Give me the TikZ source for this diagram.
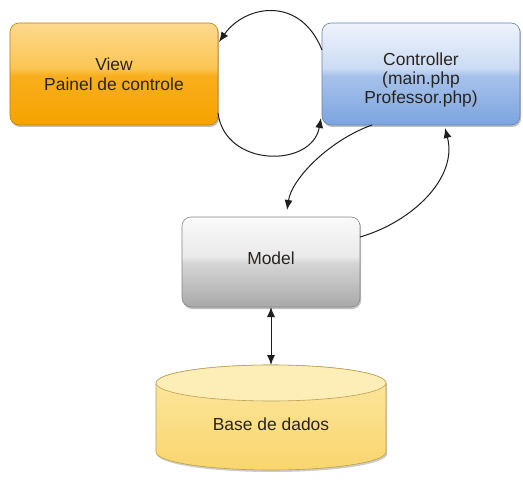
\documentclass[tikz,border=0pt]{standalone}
\usepackage{fontspec}
\setmainfont{Liberation Sans}
\usetikzlibrary{arrows.meta,shadows,calc}
\definecolor{vb}{HTML}{F6A300}
\definecolor{vm}{HTML}{F8AE1C}
\definecolor{vt2}{HTML}{FBC654}
\definecolor{vt}{HTML}{FCD98E}
\definecolor{cb}{HTML}{7CA4DE}
\definecolor{cm}{HTML}{A6C2EB}
\definecolor{ct2}{HTML}{CCDCF4}
\definecolor{ct}{HTML}{EEF3FC}
\definecolor{mb}{HTML}{A9A9A9}
\definecolor{mm}{HTML}{D4D4D4}
\definecolor{mt2}{HTML}{E9E9E9}
\definecolor{mt}{HTML}{FAFAFA}
\definecolor{yb}{HTML}{F9D66E}
\definecolor{yt}{HTML}{FCE7A2}
\definecolor{ytop}{HTML}{FDEDB6}
\definecolor{txt}{HTML}{2A2420}
\definecolor{ln}{HTML}{1E1E1E}
\pgfdeclareverticalshading{viewsh}{100bp}{color(0bp)=(vb); color(25bp)=(vb); color(49bp)=(vm); color(53bp)=(vt2); color(75bp)=(vt); color(100bp)=(vt)}
\pgfdeclareverticalshading{ctrlsh}{100bp}{color(0bp)=(cb); color(25bp)=(cb); color(49bp)=(cm); color(53bp)=(ct2); color(75bp)=(ct); color(100bp)=(ct)}
\pgfdeclareverticalshading{modsh}{100bp}{color(0bp)=(mb); color(25bp)=(mb); color(49bp)=(mm); color(53bp)=(mt2); color(75bp)=(mt); color(100bp)=(mt)}
\pgfdeclareverticalshading{dbsh}{100bp}{color(0bp)=(yb); color(25bp)=(yb); color(75bp)=(yt); color(100bp)=(yt)}
\begin{document}
\begin{tikzpicture}[x=1bp,y=-1bp,
  box/.style={rounded corners=9bp, draw=#1, line width=0.6bp, align=center,
    font=\fontsize{17.5}{20}\selectfont, text=txt, outer sep=0pt,
    drop shadow={shadow xshift=1.2bp, shadow yshift=-2bp, opacity=0.25, fill=black}},
  tip/.tip={Latex[length=10bp,width=8bp]},
  arr/.style={draw=ln, line width=1bp, -tip},
  lbl/.style={font=\fontsize{17.5}{20}\selectfont, text=txt, align=center}]
\useasboundingbox (0,0) rectangle (523,482);
\fill[white] (0,0) rectangle (523,482);
\node[box=vb!80!black, shading=viewsh, minimum width=208bp, minimum height=102bp] (view) at (114,74) {View\\Painel de controle};
\node[box=cb!80!black, shading=ctrlsh, minimum width=198bp, minimum height=102bp, font=\fontsize{17.5}{19}\selectfont] (ctrl) at (421,74) {\rule{0pt}{24bp}Controller\\(main.php\\Professor.php)};
\node[box=mb!80!black, shading=modsh, minimum width=178bp, minimum height=90bp] (model) at (271,262) {Model\rule[-8bp]{0pt}{8bp}};
% database cylinder
\path[shading=dbsh, draw=yb!75!black, line width=0.6bp, drop shadow={shadow xshift=1.2bp, shadow yshift=-2bp, opacity=0.2, fill=black}]
  (156,383) -- (156,452) arc[start angle=180, end angle=0, x radius=115, y radius=18]
  -- (386,383) arc[start angle=0, end angle=-180, x radius=115, y radius=18] -- cycle;
\draw[fill=ytop, draw=yb!75!black, line width=0.6bp] (271,383) ellipse [x radius=115, y radius=18];
\node[lbl] (db) at (271,424) {Base de dados};
\coordinate (dbtop) at (271,365);
% connectors
\coordinate (a1s) at ($(ctrl.north west)+(0,27)$);
\coordinate (a1e) at ($(view.north east)+(1,19)$);
\draw[arr] (a1s) .. controls (300,-5) and (245,5) .. (a1e);
\coordinate (a2s) at ($(view.south east)+(0,-12)$);
\coordinate (a2e) at ($(ctrl.south west)+(-1,-7)$);
\draw[arr] (a2s) .. controls (225,168) and (312,168) .. (a2e);
\coordinate (a3s) at ($(ctrl.south west)+(50,0)$);
\coordinate (a3e) at ($(model.north)+(16,-7)$);
\draw[arr] (a3s) .. controls (330,140) and (292,178) .. (a3e);
\coordinate (a4s) at ($(model.north east)+(0,20)$);
\coordinate (a4e) at ($(ctrl.south west)+(123,3)$);
\draw[arr] (a4s) .. controls (412,222) and (458,178) .. (a4e);
\draw[draw=ln, line width=1bp, tip-tip] (model.south) -- (dbtop);
\end{tikzpicture}
\end{document}
